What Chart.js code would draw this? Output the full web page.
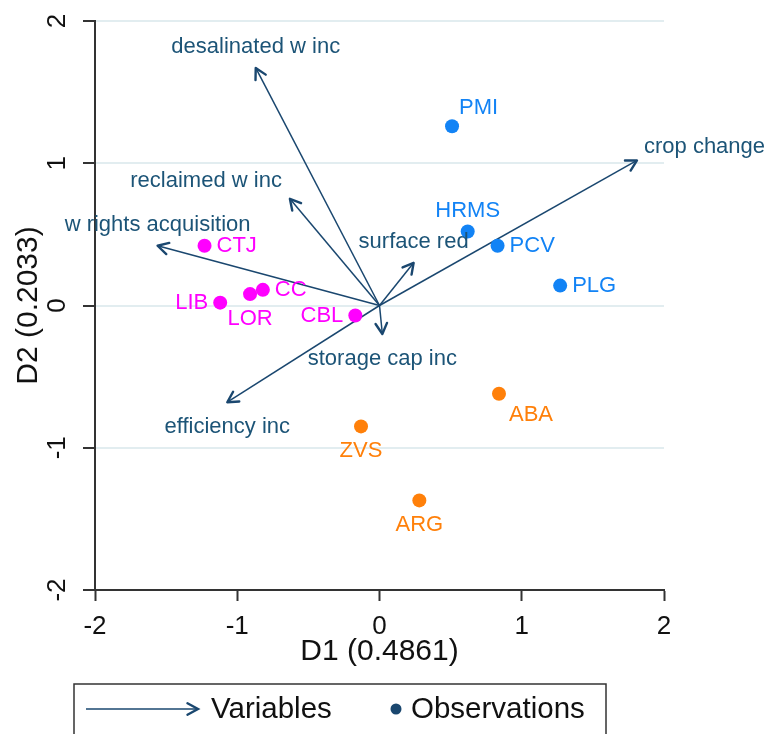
<!DOCTYPE html>
<html>
<head>
<meta charset="utf-8">
<script src="https://cdn.jsdelivr.net/npm/chart.js@4.4.0/dist/chart.umd.min.js"></script>
<style>
  html, body { margin: 0; padding: 0; background: #fff; }
  #wrap { width: 774px; height: 734px; }
</style>
</head>
<body>
<div id="wrap"><canvas id="biplot" width="774" height="734"></canvas></div>
<script>
// Variables: arrows drawn from the origin
const varNames = ['desalinated w inc', 'reclaimed w inc', 'w rights acquisition', 'surface red',
                  'crop change', 'storage cap inc', 'efficiency inc'];
const varD1 = [-0.87, -0.63, -1.56, 0.24, 1.81, 0.02, -1.07];
const varD2 = [1.67, 0.75, 0.42, 0.30, 1.02, -0.20, -0.68];

// Observations
const obsNames = ['CTJ', 'CC', 'LOR', 'LIB', 'CBL', 'PMI', 'HRMS', 'PCV', 'PLG', 'ZVS', 'ABA', 'ARG'];
const obsD1 = [-1.23, -0.82, -0.91, -1.12, -0.17, 0.51, 0.62, 0.83, 1.27, -0.13, 0.84, 0.28];
const obsD2 = [0.42, 0.11, 0.08, 0.02, -0.07, 1.26, 0.52, 0.42, 0.14, -0.85, -0.62, -1.37];
const obsGroup = [0, 0, 0, 0, 0, 1, 1, 1, 1, 2, 2, 2];

const axisTicks = [-2, -1, 0, 1, 2];
const xTitle = 'D1 (0.4861)';
const yTitle = 'D2 (0.2033)';
const legendItems = ['Variables', 'Observations'];

// where each label sits relative to its point
const varLabelAt = ['above', 'aboveLeft', 'above', 'above', 'aboveRight', 'below', 'below'];
const obsLabelAt = ['right', 'right', 'below', 'left', 'left', 'aboveRight', 'above', 'right', 'right',
                    'below', 'belowRight', 'below'];

const groupColors = ['#ff00ff', '#1283f5', '#ff800a'];
const arrowColor = '#1a476f';
const arrowTextColor = '#1c5477';
const FONT = '"Liberation Sans", Arial, sans-serif';

const datasets = [];
groupColors.forEach((c, g) => {
    const pts = [];
    obsNames.forEach((n, i) => {
        if (obsGroup[i] === g) pts.push({ x: obsD1[i], y: obsD2[i], name: n, at: obsLabelAt[i] });
    });
    datasets.push({
        kind: 'obs', data: pts, backgroundColor: c, borderColor: c,
        pointRadius: 7, pointHoverRadius: 7, borderWidth: 0
    });
});
varNames.forEach((n, i) => {
    datasets.push({
        kind: 'var', name: n, at: varLabelAt[i],
        data: [{ x: 0, y: 0 }, { x: varD1[i], y: varD2[i] }],
        showLine: true, borderColor: arrowColor, borderWidth: 1.5,
        pointRadius: 0, pointHoverRadius: 0
    });
});

function arrowHead(ctx, x0, y0, x1, y1, len) {
    const a = Math.atan2(y1 - y0, x1 - x0);
    const spread = 0.5;
    ctx.beginPath();
    ctx.moveTo(x1 - len * Math.cos(a - spread), y1 - len * Math.sin(a - spread));
    ctx.lineTo(x1, y1);
    ctx.lineTo(x1 - len * Math.cos(a + spread), y1 - len * Math.sin(a + spread));
    ctx.stroke();
}

function placeLabel(ctx, text, x, y, at, near) {
    // near: offsets differ a bit for arrow tips vs dots
    let tx = x, ty = y, align = 'center';
    if (at === 'above') ty = y - 21;
    else if (at === 'below') ty = y + 25;
    else if (at === 'left') { tx = x - 12; align = 'right'; }
    else if (at === 'right') { tx = x + 12; align = 'left'; }
    else if (at === 'aboveLeft') { tx = x - 8; ty = y - 18; align = 'right'; }
    else if (at === 'aboveRight') { tx = x + 7; ty = y - (near ? 13 : 18); align = 'left'; }
    else if (at === 'belowRight') { tx = x + 10; ty = y + 21; align = 'left'; }
    ctx.textAlign = align;
    ctx.textBaseline = 'middle';
    ctx.fillText(text, tx, ty);
}

const biplotDecor = {
    id: 'biplotDecor',
    afterDatasetsDraw(chart) {
        const ctx = chart.ctx;
        ctx.save();
        chart.data.datasets.forEach((ds, di) => {
            const meta = chart.getDatasetMeta(di);
            if (ds.kind === 'var') {
                const p0 = meta.data[0], p1 = meta.data[1];
                ctx.strokeStyle = arrowColor;
                ctx.lineWidth = 2.4;
                ctx.lineCap = 'round';
                ctx.lineJoin = 'round';
                arrowHead(ctx, p0.x, p0.y, p1.x, p1.y, 12);
                ctx.fillStyle = arrowTextColor;
                ctx.font = '22px ' + FONT;
                placeLabel(ctx, ds.name, p1.x, p1.y, ds.at, true);
            } else {
                ctx.fillStyle = ds.borderColor;
                ctx.font = '22px ' + FONT;
                meta.data.forEach((el, k) => {
                    const d = ds.data[k];
                    placeLabel(ctx, d.name, el.x, el.y, d.at, false);
                });
            }
        });
        ctx.restore();
    },
    afterDraw(chart) {
        const ctx = chart.ctx;
        const ys = chart.scales.y, xs = chart.scales.x;
        ctx.save();
        ctx.fillStyle = '#111';
        // rotated y tick labels
        ctx.font = '26px ' + FONT;
        ctx.textAlign = 'center';
        ctx.textBaseline = 'middle';
        axisTicks.forEach(v => {
            ctx.save();
            ctx.translate(58, ys.getPixelForValue(v));
            ctx.rotate(-Math.PI / 2);
            ctx.fillText(String(v), 0, 0);
            ctx.restore();
        });
        // axis titles
        ctx.font = '30px ' + FONT;
        ctx.save();
        ctx.translate(29, (ys.top + ys.bottom) / 2);
        ctx.rotate(-Math.PI / 2);
        ctx.fillText(yTitle, 0, 0);
        ctx.restore();
        ctx.fillText(xTitle, (xs.left + xs.right) / 2, 652);

        // legend box
        ctx.strokeStyle = '#333';
        ctx.lineWidth = 1.5;
        ctx.strokeRect(74, 684, 532, 70);
        ctx.strokeStyle = arrowColor;
        ctx.lineWidth = 1.5;
        ctx.beginPath();
        ctx.moveTo(86, 709);
        ctx.lineTo(198, 709);
        ctx.stroke();
        ctx.lineWidth = 2.4;
        ctx.lineCap = 'round';
        arrowHead(ctx, 86, 709, 198, 709, 12);
        ctx.fillStyle = arrowColor;
        ctx.beginPath();
        ctx.arc(396, 709, 5.5, 0, Math.PI * 2);
        ctx.fill();
        ctx.fillStyle = '#111';
        ctx.font = '29.5px ' + FONT;
        ctx.textAlign = 'left';
        ctx.fillText(legendItems[0], 211, 710);
        ctx.fillText(legendItems[1], 411, 710);
        ctx.restore();
    }
};

new Chart(document.getElementById('biplot'), {
    type: 'scatter',
    data: { datasets: datasets },
    options: {
        responsive: false,
        animation: false,
        layout: { padding: { top: 21, right: 110, left: 0, bottom: 0 } },
        plugins: { legend: { display: false }, tooltip: { enabled: false } },
        scales: {
            x: {
                type: 'linear', min: -2, max: 2,
                afterBuildTicks: s => { s.ticks = axisTicks.map(v => ({ value: v })); },
                ticks: { color: '#111', font: { size: 26, family: FONT }, padding: 10, maxRotation: 0 },
                grid: { drawOnChartArea: false, tickLength: 11, tickColor: '#333', tickWidth: 2 },
                border: { color: '#333', width: 2 },
                afterFit: s => { s.height = 144; }
            },
            y: {
                type: 'linear', min: -2, max: 2,
                afterBuildTicks: s => { s.ticks = axisTicks.map(v => ({ value: v })); },
                ticks: { display: false },
                grid: { color: '#e2edf0', lineWidth: 2, tickLength: 12, tickColor: '#333', tickWidth: 2 },
                border: { color: '#333', width: 2 },
                afterFit: s => { s.width = 95; }
            }
        }
    },
    plugins: [biplotDecor]
});
</script>
</body>
</html>
